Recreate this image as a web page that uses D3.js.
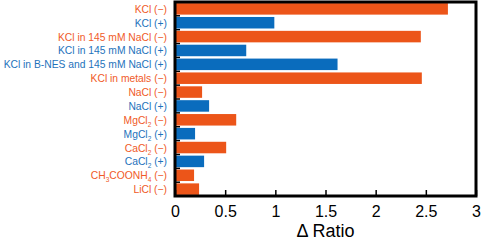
<!DOCTYPE html>
<html>
<head>
<meta charset="utf-8">
<script src="https://cdn.jsdelivr.net/npm/d3@7"></script>
<style>
  body { margin: 0; background: #fff; }
  text { font-family: "Liberation Sans", Arial, sans-serif; }
</style>
</head>
<body>
<script>
// categories as [text, isSubscript] pieces, top to bottom
const labels = [
    [["KCl (\u2212)"]],
    [["KCl (+)"]],
    [["KCl in 145 mM NaCl (\u2212)"]],
    [["KCl in 145 mM NaCl (+)"]],
    [["KCl in B-NES and 145 mM NaCl (+)"]],
    [["KCl in metals (\u2212)"]],
    [["NaCl (\u2212)"]],
    [["NaCl (+)"]],
    [["MgCl"], ["2", true], [" (\u2212)"]],
    [["MgCl"], ["2", true], [" (+)"]],
    [["CaCl"], ["2", true], [" (\u2212)"]],
    [["CaCl"], ["2", true], [" (+)"]],
    [["CH"], ["3", true], ["COONH"], ["4", true], [" (\u2212)"]],
    [["LiCl (\u2212)"]]
];
const polarity = ["-", "+", "-", "+", "+", "-", "-", "+", "-", "+", "-", "+", "-", "-"];
const ratios = [2.72, 0.99, 2.45, 0.71, 1.62, 2.46, 0.27, 0.34, 0.61, 0.20, 0.51, 0.29, 0.19, 0.24];
const xTicks = [0, 0.5, 1, 1.5, 2, 2.5, 3];

const orange = "#ec5519";
const blue = "#0a6cbd";
const orangeText = "#f05a28";
const blueText = "#1e72bb";

function init() {
    var w = 484, h = 241;
    var left = 175, right = 476, top = 2, bottom = 196;

    var svg = d3.select("body").append("svg")
        .attr("width", w)
        .attr("height", h);

    var x = d3.scaleLinear().domain([0, 3]).range([left, right]);
    var y = d3.scaleBand()
        .domain(d3.range(ratios.length))
        .range([top, bottom])
        .paddingInner(0.17)
        .paddingOuter(0.08);

    svg.selectAll("rect.bar")
        .data(ratios)
        .enter()
        .append("rect")
        .attr("class", "bar")
        .attr("x", x(0))
        .attr("y", function(d, i) { return y(i); })
        .attr("width", function(d) { return x(d) - x(0); })
        .attr("height", y.bandwidth())
        .attr("fill", function(d, i) { return polarity[i] == "-" ? orange : blue; });

    // category labels
    var lab = svg.selectAll("text.cat")
        .data(labels)
        .enter()
        .append("text")
        .attr("class", "cat")
        .attr("x", left - 8)
        .attr("y", function(d, i) { return y(i) + y.bandwidth() / 2 + 4; })
        .attr("text-anchor", "end")
        .attr("font-size", "10.3px")
        .attr("fill", function(d, i) { return polarity[i] == "-" ? orangeText : blueText; });

    lab.each(function(parts) {
        var t = d3.select(this);
        parts.forEach(function(p) {
            var s = t.append("tspan").text(p[0]);
            if (p[1]) {
                s.attr("font-size", "6.5px").attr("dy", 3);
            } else if (t.selectAll("tspan").size() > 1) {
                s.attr("dy", -3);
            }
        });
    });

    // y ticks at row boundaries, pointing inward
    var step = y.step();
    var ybounds = d3.range(1, ratios.length).map(function(i) { return y(i) - (step - y.bandwidth()) / 2; });
    svg.selectAll("line.yt")
        .data(ybounds)
        .enter()
        .append("line")
        .attr("x1", left)
        .attr("x2", left + 5)
        .attr("y1", function(d) { return d; })
        .attr("y2", function(d) { return d; })
        .attr("stroke", "#000")
        .attr("stroke-width", 1.5);

    // x axis ticks, pointing inward
    var xAxis = d3.axisBottom(x)
        .tickValues(xTicks)
        .tickSize(-6)
        .tickPadding(10)
        .tickFormat(d3.format("~g"));

    var gx = svg.append("g")
        .attr("transform", "translate(0," + bottom + ")")
        .call(xAxis);
    gx.select(".domain").remove();
    gx.selectAll(".tick line").attr("stroke", "#000").attr("stroke-width", 1.5);
    gx.selectAll(".tick text")
        .attr("font-size", "16px")
        .attr("fill", "#000")
        .style("font-family", "Liberation Sans, Arial, sans-serif");

    // frame
    svg.append("rect")
        .attr("x", left)
        .attr("y", top)
        .attr("width", right - left)
        .attr("height", bottom - top)
        .attr("fill", "none")
        .attr("stroke", "#000")
        .attr("stroke-width", 3);

    svg.append("text")
        .attr("x", (left + right) / 2)
        .attr("y", 237)
        .attr("text-anchor", "middle")
        .attr("font-size", "18px")
        .attr("fill", "#000")
        .text("\u0394 Ratio");
}
window.onload = init;
</script>
</body>
</html>
